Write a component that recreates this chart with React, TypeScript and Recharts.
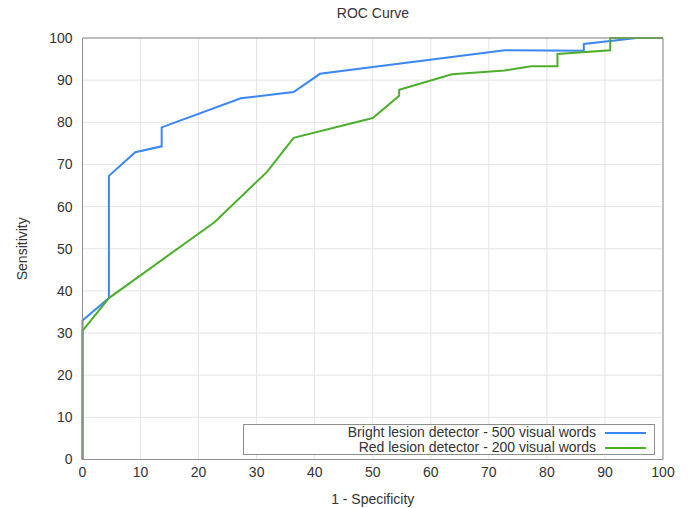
import React from 'react';
import {
  LineChart,
  Line,
  XAxis,
  YAxis,
  CartesianGrid,
  Legend,
} from 'recharts';

// tick values for both axes (percent)
const TICKS = [0, 10, 20, 30, 40, 50, 60, 70, 80, 90, 100];

// Bright lesion detector - 500 visual words
const brightFpr = [0, 0, 4.55, 4.55, 9.09, 13.64, 13.64, 27.27, 36.36, 40.91, 72.73, 86.36, 86.36, 90.91, 95.45, 100];
const brightTpr = [0, 33, 38.3, 67.3, 72.9, 74.3, 78.8, 85.7, 87.2, 91.5, 97.1, 97.0, 98.6, 99.3, 100, 100];

// Red lesion detector - 200 visual words
const redFpr = [0, 0, 4.55, 22.73, 31.82, 36.36, 50, 54.55, 54.55, 63.64, 72.73, 77.27, 81.82, 81.82, 90.91, 90.91, 100];
const redTpr = [0, 30.5, 38.3, 56.3, 68.3, 76.3, 81.0, 86.3, 87.7, 91.4, 92.3, 93.3, 93.3, 96.2, 97.1, 100, 100];

const SERIES_NAMES = ['Bright lesion detector - 500 visual words', 'Red lesion detector - 200 visual words'];

const COLORS = {
  bright: '#3a87f5',
  red: '#4caf2b',
  text: '#333333',
  grid: '#e4e4e4',
  border: '#8e8e8e',
};

const toPoints = (xs: number[], ys: number[]) => xs.map((x, i) => ({ x, y: ys[i] }));
const brightData = toPoints(brightFpr, brightTpr);
const redData = toPoints(redFpr, redTpr);

const FONT = '"Liberation Sans", Arial, Helvetica, sans-serif';

// no tick label, only the inward tick mark
const NoLabel = () => <g />;

const SensitivityLabel = (props: any) => {
  const { x, y, height } = props.viewBox;
  const cx = x + 22;
  const cy = y + height / 2;
  return (
    <text x={cx} y={cy} transform={`rotate(-90, ${cx}, ${cy})`} textAnchor="middle" dominantBaseline="central" fill={COLORS.text} fontSize={14}>
      Sensitivity
    </text>
  );
};

const LegendBox = (props: any) => {
  const items = props.payload || [];
  return (
    <div style={{ border: `1px solid ${COLORS.border}`, background: '#fff', height: 31, boxSizing: 'border-box', padding: '0 8px 0 0', fontFamily: FONT, fontSize: 14, color: COLORS.text }}>
      {items.map((item: any) => (
        <div key={item.value} style={{ display: 'flex', justifyContent: 'flex-end', alignItems: 'center', height: 15, lineHeight: '15px' }}>
          <span>{item.value}</span>
          <span style={{ display: 'inline-block', width: 41, height: 2, background: item.color, marginLeft: 9 }} />
        </div>
      ))}
    </div>
  );
};

export default function App() {
  return (
    <div style={{ position: 'absolute', left: 0, top: 0, width: 689, height: 508, background: '#fff', fontFamily: FONT }}>
      <div style={{ position: 'absolute', left: 273, width: 200, top: 5, textAlign: 'center', fontSize: 14, color: COLORS.text }}>ROC Curve</div>
      <LineChart width={689} height={508} margin={{ top: 38, right: 26, left: 0, bottom: 0 }} style={{ fontFamily: FONT }}>
        <CartesianGrid stroke={COLORS.grid} strokeWidth={1} />
        <XAxis
          dataKey="x"
          type="number"
          domain={[0, 100]}
          ticks={TICKS}
          interval={0}
          height={48.5}
          tickLine={false}
          axisLine={{ stroke: COLORS.border }}
          tick={{ fill: COLORS.text, fontSize: 14 }}
          label={{ value: '1 - Specificity', position: 'insideBottom', offset: 4, fill: COLORS.text, fontSize: 14 }}
        />
        <XAxis xAxisId="bm" orientation="bottom" mirror type="number" domain={[0, 100]} ticks={TICKS} interval={0} axisLine={false} tickLine={{ stroke: COLORS.border }} tickSize={5} tick={NoLabel} />
        <XAxis xAxisId="tm" orientation="top" mirror type="number" domain={[0, 100]} ticks={TICKS} interval={0} axisLine={{ stroke: COLORS.border }} tickLine={{ stroke: COLORS.border }} tickSize={5} tick={NoLabel} />
        <YAxis
          type="number"
          domain={[0, 100]}
          ticks={TICKS}
          interval={0}
          width={82.5}
          tickLine={false}
          tickMargin={4}
          axisLine={{ stroke: COLORS.border }}
          tick={{ fill: COLORS.text, fontSize: 14 }}
          label={<SensitivityLabel />}
        />
        <YAxis yAxisId="lm" orientation="left" mirror type="number" domain={[0, 100]} ticks={TICKS} interval={0} axisLine={false} tickLine={{ stroke: COLORS.border }} tickSize={5} tick={NoLabel} />
        <YAxis yAxisId="rm" orientation="right" mirror type="number" domain={[0, 100]} ticks={TICKS} interval={0} axisLine={{ stroke: COLORS.border }} tickLine={{ stroke: COLORS.border }} tickSize={5} tick={NoLabel} />
        <Legend
          layout="horizontal"
          verticalAlign="middle"
          align="center"
          content={<LegendBox />}
          wrapperStyle={{ left: 243, top: 424, width: 412, height: 31 }}
        />
        <Line data={brightData} dataKey="y" name={SERIES_NAMES[0]} type="linear" stroke={COLORS.bright} strokeWidth={2} dot={false} isAnimationActive={false} />
        <Line data={redData} dataKey="y" name={SERIES_NAMES[1]} type="linear" stroke={COLORS.red} strokeWidth={2} dot={false} isAnimationActive={false} />
      </LineChart>
    </div>
  );
}
